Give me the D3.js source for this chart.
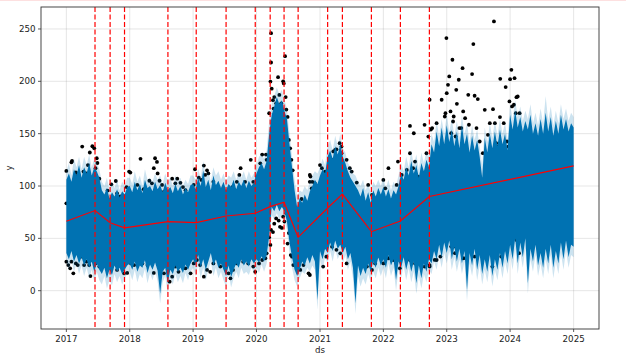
<!DOCTYPE html>
<html><head><meta charset="utf-8">
<script src="https://cdn.jsdelivr.net/npm/d3@7"></script>
<style>body{margin:0;background:#fff}svg{display:block}</style>
</head><body>
<svg id="c" width="626" height="364"></svg>
<script>
// ---------- DATA ----------
const xTickYears = [2017,2018,2019,2020,2021,2022,2023,2024,2025];
const yTickValues = [0,50,100,150,200,250];

const changepoints = ["2017-06-15","2017-09-10","2017-12-02","2018-08-09","2019-01-19","2019-07-10",
  "2019-12-25","2020-03-20","2020-06-08","2020-08-28","2021-02-14","2021-05-10","2021-10-24",
  "2022-04-09","2022-09-23"];

const trendDates = ["2017-01-01"].concat(changepoints).concat(["2025-01-01"]);
const trendValues = [66.3,76.5,65,60,66,65,71.4,74,80.3,84.5,51,79,92.2,56.4,66.6,89.9,119.2];

// forecast sampled every 0.04 year from 2017.00 to 2025.00 (201 samples)
const bandStart = 2017, bandStep = 0.04;
const yhatUpper = [
 106,112,104,116,110,120,108,118,112,122,110,118,114,108,96,92,98,88,94,90,97,89,95,92,99,
 100,94,104,96,102,93,106,98,100,95,104,97,101,94,103,96,99,93,102,95,100,92,98,94,101,
 102,97,108,100,115,99,106,96,110,101,105,98,104,96,102,99,106,97,104,100,106,98,105,100,103,
 112,118,122,116,124,150,168,176,185,178,182,172,164,140,118,96,80,88,84,92,86,95,100,106,102,
 110,116,112,128,134,126,138,130,140,128,122,114,108,104,100,96,90,98,86,94,84,96,90,98,92,
 99,90,97,88,96,92,100,112,106,118,110,124,112,120,108,122,114,125,118,140,132,152,138,156,140,
 158,142,154,138,152,136,158,140,150,132,148,134,144,128,108,146,132,150,136,152,138,154,140,150,134,
 168,154,172,156,166,152,162,154,168,150,160,148,164,150,170,152,166,148,162,150,168,154,164,152,160,
 156];
const yhatLower = [
 36,30,38,28,34,26,32,24,30,22,28,18,26,20,16,22,12,20,15,24,18,22,16,20,24,
 26,20,28,18,24,22,29,17,25,20,27,19,-3,18,22,7,20,16,24,18,22,17,25,20,26,
 30,24,34,22,30,20,28,36,24,30,22,26,20,14,24,13,20,26,22,30,24,28,23,30,26,
 30,27,33,28,34,52,80,76,82,76,80,76,66,46,32,20,14,20,28,24,32,26,34,28,-9,
 38,30,40,36,46,38,48,40,44,36,42,30,36,22,-12,24,14,22,16,26,18,28,22,32,24,
 30,22,34,24,30,10,28,22,32,20,30,18,28,7,24,12,26,18,30,26,38,30,44,32,46,
 36,48,30,42,28,40,26,38,1,36,24,40,20,34,16,30,18,34,14,30,20,36,22,38,26,
 44,30,50,26,46,32,50,7,40,28,44,24,36,22,40,26,44,22,38,26,46,30,48,32,44,
 42];
const ciUpper = [
 114,122,110,126,118,128,116,128,120,130,118,126,122,116,104,100,108,96,104,98,106,96,104,100,108,
 108,102,114,104,110,100,116,106,108,104,112,106,110,102,112,104,108,100,110,104,108,100,106,102,110,
 110,106,116,108,124,108,114,104,118,110,114,106,112,104,110,108,114,106,112,108,114,106,114,108,112,
 120,128,130,126,134,162,178,186,194,188,192,182,174,150,128,106,90,96,94,100,96,104,110,114,112,
 118,126,120,138,144,134,148,138,150,136,132,122,118,112,110,104,100,106,96,102,94,104,100,106,100,
 108,98,106,96,104,100,110,122,114,128,118,134,120,130,116,132,122,134,128,150,142,162,148,164,150,
 168,152,164,148,162,146,168,150,160,142,158,144,154,138,120,156,142,160,146,162,148,164,150,160,144,
 178,164,182,166,176,162,172,164,178,160,170,158,174,160,186,162,176,158,172,160,178,164,174,162,170,
 166];
const ciLower = [
 28,20,30,18,26,16,24,14,22,12,20,8,18,10,6,14,2,10,5,16,8,14,6,12,16,
 18,10,20,8,16,12,21,7,17,10,19,9,-12,8,14,-3,12,6,16,8,14,7,17,10,18,
 22,14,26,12,22,10,20,28,14,22,12,18,10,4,16,3,12,18,12,22,16,18,15,22,18,
 22,17,25,18,26,42,72,68,74,68,72,68,58,36,22,10,4,12,18,16,22,18,24,20,-18,
 30,20,32,26,38,28,40,30,36,26,34,20,28,12,-22,14,4,12,6,16,8,18,12,22,14,
 22,12,26,14,22,0,20,12,24,10,22,8,18,-3,14,2,16,8,20,16,28,20,34,22,36,
 26,38,20,32,18,30,16,28,-10,26,14,30,10,24,6,20,8,24,4,20,10,26,12,28,16,
 34,20,40,16,36,22,40,-3,30,18,34,14,26,12,30,16,34,12,28,16,36,20,38,22,34,
 32];

const observed = [
 [2017.00,114.4],[2017.00,83.5],[2017.08,122.7],[2017.09,124],[2017.15,113],[2017.18,110],[2017.25,137.7],[2017.27,113.8],
 [2017.32,112],[2017.34,120],[2017.37,132],[2017.41,138],[2017.44,136],[2017.46,117],[2017.48,126.5],[2017.49,122],
 [2017.50,107],[2017.52,107],[2017.54,91],[2017.56,87.6],[2017.63,85],[2017.65,95.6],[2017.71,101.6],[2017.78,104.8],
 [2017.80,93],[2017.85,90],[2017.92,85.7],[2017.95,99],[2017.99,113.8],[2018.01,112.8],[2018.17,126],[2018.12,101],
 [2018.22,97],[2018.31,105],[2018.35,102.6],[2018.38,117],[2018.40,126.5],[2018.43,123],[2018.44,112],[2018.47,105],
 [2018.51,101],[2018.54,94.6],[2018.57,88],[2018.62,86.7],[2018.67,107],[2018.72,102.6],[2018.75,107],[2018.80,103],
 [2018.84,99],[2018.88,96],[2018.93,91.5],[2018.97,88],[2019.01,101],[2019.03,116],[2019.09,108],[2019.13,105.8],
 [2019.17,119.5],[2019.19,110.6],[2019.22,115],[2019.24,112],[2019.32,104],[2019.40,99],[2019.46,93],[2019.59,86.7],
 [2019.62,99],[2019.69,104],[2019.73,110.6],[2019.75,117],[2019.82,104],[2019.88,98],[2019.91,125],[2019.95,104],
 [2020.01,109],[2020.06,121.7],[2020.09,130],[2020.15,130],[2020.16,125],
 [2020.20,169.5],[2020.22,199.8],[2020.23,246],[2020.23,218],[2020.24,193],[2020.26,182],[2020.27,174],[2020.28,185],
 [2020.31,179],[2020.34,204],[2020.36,187],[2020.39,179],[2020.42,200],[2020.43,198],[2020.45,224],[2020.46,185],
 [2020.47,173],[2020.49,166],[2020.51,144],[2020.53,136],[2020.55,125],[2020.57,115],
 [2020.23,58],[2020.26,56],[2020.28,64],[2020.31,69],[2020.35,67],[2020.37,61],[2020.40,60],[2020.42,70.7],
 [2020.44,66],[2020.47,74],[2020.49,45],[2020.51,55],[2020.54,34],[2020.56,32.5],[2020.58,24.5],[2020.20,51],
 [2020.22,43.7],[2020.16,35.7],[2020.14,31],
 [2017.00,27.7],[2017.03,24.5],[2017.06,21.4],[2017.08,27.7],[2017.11,16.6],[2017.15,26],[2017.18,24.5],[2017.23,32.5],
 [2017.28,24.5],[2017.32,27.7],[2017.36,24.5],[2017.38,14],[2017.41,29.3],[2017.44,35.7],[2017.46,26],[2017.49,32.5],
 [2017.52,23],[2017.75,26],[2017.80,19.8],[2017.88,24.5],[2017.91,16.6],[2017.96,17],[2018.02,26],[2018.07,24.5],
 [2018.12,27.7],[2018.20,26],[2018.28,24.5],[2018.35,27.7],[2018.38,17],[2018.48,21.4],[2018.54,16.6],[2018.63,8.6],
 [2018.67,13.4],[2018.72,23],[2018.77,18],[2018.83,24.5],[2018.88,21.4],[2018.96,16.6],[2019.01,26],[2019.06,29.3],
 [2019.11,24.5],[2019.17,13.4],[2019.22,19.8],[2019.27,18],[2019.32,26],[2019.38,31],[2019.43,23],[2019.48,24.5],
 [2019.56,16.6],[2019.59,11.8],[2019.63,19.8],[2019.69,26],[2019.74,31],[2019.79,27.7],[2019.87,26],[2019.95,23],
 [2019.98,18],[2020.01,35.7],[2020.04,26],[2020.09,29.3],
 [2020.71,87.6],[2020.73,74],[2020.85,109],[2020.88,104],[2020.90,95.6],[2020.92,93],[2020.84,15],[2020.69,19.8],
 [2020.69,78.7],[2020.84,104],[2020.87,97.8],[2020.92,102.6],[2020.84,110.6],[2021.00,120],[2021.03,117],[2021.08,113.8],
 [2021.15,123.3],[2021.19,125],[2021.21,133],[2021.24,134.5],[2021.26,135],[2021.31,140.9],[2021.34,137.7],[2021.34,131.3],
 [2021.42,125],[2021.47,117],[2021.50,113.8],[2021.58,103.3],[2021.76,101],[2021.82,91.5],[2021.87,80.3],[2021.89,74],
 [2022.00,105.8],[2022.03,97.8],[2022.08,117],[2022.16,86.7],[2022.21,101],[2022.23,123.3],[2022.29,110.6],[2022.37,115.4],
 [2022.42,131.3],[2022.47,117],[2022.50,123.3],[2022.55,109],[2022.59,105.8],[2022.42,157.4],[2022.48,150.4],[2022.65,158.4],
 [2022.68,131.3],[2022.71,147.2],[2022.75,154],[2022.84,160],[2022.86,134.5],
 [2020.74,24.5],[2020.82,16.6],[2020.92,35.7],[2021.05,23],[2021.10,32.5],[2021.19,42],[2021.26,39],[2021.32,35.7],
 [2021.42,26],[2021.74,23],[2021.82,19.8],[2021.87,26],[2021.95,32.5],[2022.00,26],[2022.08,31],[2022.16,29.3],
 [2022.26,21.4],[2022.31,35.7],[2022.42,29.3],[2022.50,26],[2022.58,32.5],[2022.65,23],[2022.73,24.5],[2022.84,29.3],
 [2022.73,182.4],[2022.77,155.3],[2022.92,182.4],[2022.94,137.7],[2022.97,166.4],[2022.98,169.6],[2022.995,241.3],
 [2023.00,188.7],[2023.02,196.7],[2023.04,204.7],[2023.06,171.2],[2023.07,150.5],[2023.09,220.6],[2023.10,161.6],[2023.11,166.4],
 [2023.14,147.3],[2023.15,191.9],[2023.16,178.5],[2023.19,201.5],[2023.20,155.3],[2023.23,155.3],[2023.25,212.6],[2023.26,171.2],
 [2023.29,164.8],[2023.31,123.4],[2023.34,187.1],[2023.35,158.5],[2023.40,206.9],[2023.42,235.6],[2023.44,186.2],[2023.47,155.3],
 [2023.49,183],[2023.52,142.5],[2023.57,131.4],[2023.60,172.8],[2023.65,148.9],[2023.68,160],[2023.73,173.4],[2023.745,257.2],
 [2023.76,160],[2023.78,140.9],[2023.81,137.7],[2023.84,165.8],[2023.845,202.4],[2023.89,134.6],[2023.90,160],[2023.93,194.5],
 [2023.95,142.5],[2023.97,137.7],[2023.99,180.8],[2024.00,202.1],[2024.02,211],[2024.03,176],[2024.06,177.6],[2024.07,203],
 [2024.09,169.6],[2024.10,184.9],[2024.12,185.5],[2024.15,169.6],
 [2022.73,23],[2022.79,48.5],[2022.81,29.4],[2022.84,45.3],[2022.90,32.6],[2023.00,48.5],[2023.05,54.9],[2023.07,42.1],
 [2023.11,42.1],[2023.13,35.8],[2023.15,42.1],[2023.18,41.5],[2023.23,51.7],[2023.26,31],[2023.30,31],[2023.32,64.5],
 [2023.34,45.3],[2023.35,39],[2023.44,32.6],[2023.57,39],[2023.63,31],[2023.72,23],[2023.73,61.3],[2023.76,51.7],
 [2023.81,45.3],[2023.84,42.1],[2023.86,32.6],[2023.91,39.6],[2023.99,61.3],[2024.00,74],[2024.02,51.7],[2024.07,70.8],
 [2024.10,48.5],[2024.12,48.5],[2024.14,35.8]
];

// ---------- DRAW ----------
function yearToDate(y){
  const yr = Math.floor(y + 1e-9);
  const s = Date.UTC(yr,0,1), e = Date.UTC(yr+1,0,1);
  return new Date(s + (y-yr)*(e-s));
}
const parse = d3.utcParse("%Y-%m-%d");
const svg = d3.select("#c");
const L=41, R=599, T=7, B=329;
const d0 = Date.UTC(2017,0,1), d1 = Date.UTC(2025,0,1), pad = (d1-d0)*0.05;
const x = d3.scaleUtc().domain([new Date(d0-pad), new Date(d1+pad)]).range([L,R]);
const y = d3.scaleLinear().domain([-36.6,271]).range([B,T]);

svg.append("line").attr("x1",0).attr("x2",626).attr("y1",0.5).attr("y2",0.5).attr("stroke","#fde0e0");

svg.append("clipPath").attr("id","clp").append("rect").attr("x",L).attr("y",T).attr("width",R-L).attr("height",B-T);
const g = svg.append("g").attr("clip-path","url(#clp)");

// grid
g.selectAll(".gx").data(xTickYears).enter().append("line")
  .attr("x1",d=>x(yearToDate(d))).attr("x2",d=>x(yearToDate(d))).attr("y1",T).attr("y2",B)
  .attr("stroke","#808080").attr("stroke-opacity",0.2).attr("stroke-width",1);
g.selectAll(".gy").data(yTickValues).enter().append("line")
  .attr("y1",d=>y(d)).attr("y2",d=>y(d)).attr("x1",L).attr("x2",R)
  .attr("stroke","#808080").attr("stroke-opacity",0.2).attr("stroke-width",1);

// observed points
g.selectAll(".pt").data(observed).enter().append("circle")
  .attr("cx",d=>x(yearToDate(d[0]))).attr("cy",d=>y(d[1])).attr("r",1.9).attr("fill","#000");

const idx = d3.range(yhatUpper.length);
const bx = i => x(yearToDate(bandStart + i*bandStep));
const yhatArea = d3.area().x(bx).y0(i=>y(yhatLower[i])).y1(i=>y(yhatUpper[i]));
const ciArea = d3.area().x(bx).y0(i=>y(ciLower[i])).y1(i=>y(ciUpper[i]));
g.append("path").attr("d",yhatArea(idx)).attr("fill","#0072B2");
g.append("path").attr("d",ciArea(idx)).attr("fill","#0072B2").attr("fill-opacity",0.2);

// trend
const tl = d3.line().x((d,i)=>x(parse(trendDates[i]))).y((d,i)=>y(trendValues[i]));
g.append("path").attr("d",tl(trendValues)).attr("fill","none").attr("stroke","#ff0000").attr("stroke-width",1.1);

// changepoints
g.selectAll(".cp").data(changepoints).enter().append("line")
  .attr("x1",d=>x(parse(d))).attr("x2",d=>x(parse(d))).attr("y1",T).attr("y2",B)
  .attr("stroke","#ff0000").attr("stroke-width",1.2).attr("stroke-dasharray","5,2.5");

// frame
svg.append("rect").attr("x",L).attr("y",T).attr("width",R-L).attr("height",B-T)
  .attr("fill","none").attr("stroke","#333").attr("stroke-width",0.9);

// axes
const font = "DejaVu Sans, sans-serif";
const xa = svg.append("g");
xTickYears.forEach(yr=>{
  const px = x(yearToDate(yr));
  xa.append("line").attr("x1",px).attr("x2",px).attr("y1",B).attr("y2",B+3).attr("stroke","#333").attr("stroke-width",0.8);
  xa.append("text").attr("x",px).attr("y",B+12.5).attr("text-anchor","middle")
    .attr("font-family",font).attr("font-size",8.7).attr("fill","#222").text(yr);
});
yTickValues.forEach(v=>{
  const py = y(v);
  xa.append("line").attr("x1",L-3).attr("x2",L).attr("y1",py).attr("y2",py).attr("stroke","#333").attr("stroke-width",0.8);
  xa.append("text").attr("x",L-5.5).attr("y",py+3).attr("text-anchor","end")
    .attr("font-family",font).attr("font-size",8.7).attr("fill","#222").text(v);
});
svg.append("text").attr("x",(L+R)/2).attr("y",353).attr("text-anchor","middle")
  .attr("font-family",font).attr("font-size",8.7).attr("fill","#222").text("ds");
svg.append("text").attr("transform",`translate(12,${(T+B)/2}) rotate(-90)`).attr("text-anchor","middle")
  .attr("font-family",font).attr("font-size",8.7).attr("fill","#222").text("y");
</script>
</body></html>
